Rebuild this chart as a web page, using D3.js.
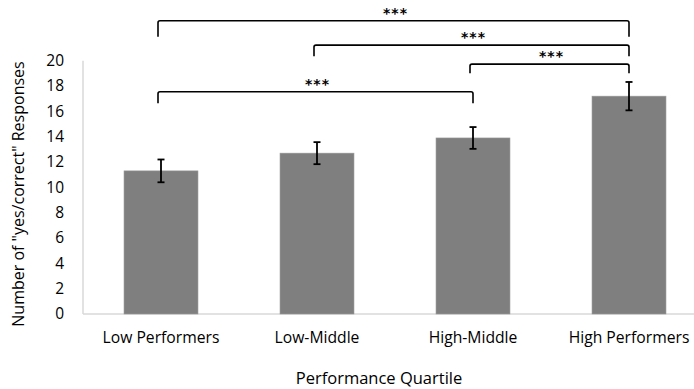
<!DOCTYPE html>
<html>
<head>
<meta charset="utf-8">
<script src="https://cdn.jsdelivr.net/npm/d3@7"></script>
<style>
  html, body { margin: 0; padding: 0; background: #fff; }
  svg { display: block; }
  text { font-family: "Open Sans", "Noto Sans", sans-serif; fill: #000; }
</style>
</head>
<body>
<svg id="chart" width="694" height="389"></svg>
<script>
// ---- data ----
const categories = ["Low Performers", "Low-Middle", "High-Middle", "High Performers"];
const means = [11.3, 12.7, 13.9, 17.2];
const errors = [0.9, 0.87, 0.86, 1.12];
const yTicks = [0, 2, 4, 6, 8, 10, 12, 14, 16, 18, 20];
// significance brackets: from/to category index, level (bar height in data units), tip (end height in data units)
const bracketFrom = [0, 1, 2, 0];
const bracketTo = [3, 3, 3, 2];
const bracketLevel = [23.15, 21.23, 19.73, 17.55];
const bracketTip = [21.9, 20.36, 19.0, 16.65];
const bracketLabel = ["***", "***", "***", "***"];
const xTitle = "Performance Quartile";
const yTitle = "Number of \"yes/correct\" Responses";

// ---- layout ----
const svg = d3.select("#chart");
const mLeft = 83, mBottom = 314, mTop = 60.7;
const x = d3.scaleBand().domain(categories).range([mLeft, mLeft + 624]).paddingInner(0.526).paddingOuter(0.263);
const y = d3.scaleLinear().domain([0, 20]).range([mBottom, mTop]);

// axes lines
svg.append("line").attr("x1", mLeft).attr("x2", 694).attr("y1", mBottom).attr("y2", mBottom)
  .attr("stroke", "#d9d9d9").attr("stroke-width", 1.5);
svg.append("line").attr("x1", mLeft).attr("x2", mLeft).attr("y1", y(20)).attr("y2", mBottom)
  .attr("stroke", "#d9d9d9").attr("stroke-width", 1.5);

// y tick labels
const yAxis = d3.axisLeft(y).tickValues(yTicks).tickSize(0).tickPadding(19);
const gy = svg.append("g").attr("transform", `translate(${mLeft},0)`).call(yAxis);
gy.select(".domain").remove();
gy.selectAll("text").style("font-size", "15.5px").style("font-family", "'Open Sans', sans-serif").attr("fill", "#000");

// x tick labels
const xAxis = d3.axisBottom(x).tickSize(0).tickPadding(18);
const gx = svg.append("g").attr("transform", `translate(0,${mBottom})`).call(xAxis);
gx.select(".domain").remove();
gx.selectAll("text").style("font-size", "15.7px").style("font-family", "'Open Sans', sans-serif").attr("fill", "#000");

// bars
const data = categories.map((c, i) => ({ c, m: means[i], e: errors[i] }));
svg.append("g").selectAll("rect").data(data).join("rect")
  .attr("x", d => x(d.c)).attr("width", x.bandwidth())
  .attr("y", d => y(d.m)).attr("height", d => mBottom - y(d.m))
  .attr("fill", "#7f7f7f").attr("stroke", "#999").attr("stroke-width", 0.6);

// error bars
const eg = svg.append("g").attr("stroke", "#000").attr("stroke-width", 1.8);
data.forEach(d => {
  const cx = x(d.c) + x.bandwidth() / 2;
  eg.append("line").attr("x1", cx).attr("x2", cx).attr("y1", y(d.m + d.e)).attr("y2", y(d.m - d.e));
  eg.append("line").attr("x1", cx - 3.5).attr("x2", cx + 3.5).attr("y1", y(d.m + d.e)).attr("y2", y(d.m + d.e));
  eg.append("line").attr("x1", cx - 3.5).attr("x2", cx + 3.5).attr("y1", y(d.m - d.e)).attr("y2", y(d.m - d.e));
});

// significance brackets
const bg = svg.append("g");
bracketFrom.forEach((f, i) => {
  const x1 = x(categories[f]) + x.bandwidth() / 2 - 3;
  const x2 = x(categories[bracketTo[i]]) + x.bandwidth() / 2;
  const yl = y(bracketLevel[i]), yt = y(bracketTip[i]);
  const r = 2;
  const p = `M${x1},${yt} L${x1},${yl + r} Q${x1},${yl} ${x1 + r},${yl} L${x2 - r},${yl} Q${x2},${yl} ${x2},${yl + r} L${x2},${yt}`;
  bg.append("path").attr("d", p).attr("fill", "none").attr("stroke", "#000").attr("stroke-width", 1.6);
  bg.append("text").attr("x", (x1 + x2) / 2 + 2).attr("y", yl - 3).attr("text-anchor", "middle")
    .style("font-size", "14px").style("font-weight", "bold").style("letter-spacing", "1px")
    .style("font-family", "'DejaVu Sans', sans-serif").text(bracketLabel[i]);
});

// titles
svg.append("text").attr("x", 379).attr("y", 384).attr("text-anchor", "middle")
  .style("font-size", "16.5px").text(xTitle);
svg.append("text").attr("transform", "translate(24,194) rotate(-90)").attr("text-anchor", "middle")
  .style("font-size", "16px").text(yTitle);
</script>
</body>
</html>
